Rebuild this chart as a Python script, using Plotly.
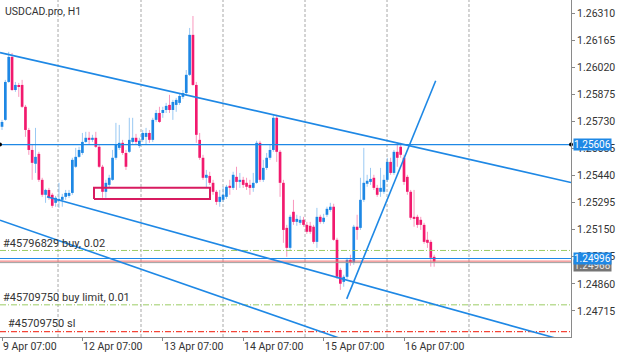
import plotly.graph_objects as go

# ---------------- data (USDCAD.pro, H1) ----------------
opens = [1.25701, 1.25738, 1.25941, 1.26075, 1.25898, 1.25920, 1.25925, 1.25808, 1.25684, 1.25577,
         1.25503, 1.25556, 1.25417, 1.25337, 1.25363, 1.25337, 1.25294, 1.25305, 1.25310, 1.25326,
         1.25331, 1.25347, 1.25487, 1.25540, 1.25561, 1.25620, 1.25642, 1.25631, 1.25642, 1.25594,
         1.25487, 1.25353, 1.25390, 1.25417, 1.25535, 1.25588, 1.25615, 1.25561, 1.25567, 1.25620,
         1.25642, 1.25599, 1.25631, 1.25647, 1.25668, 1.25631, 1.25738, 1.25775, 1.25775, 1.25791,
         1.25818, 1.25791, 1.25818, 1.25829, 1.25861, 1.25882, 1.25979, 1.26193, 1.25925, 1.25631,
         1.25535, 1.25428, 1.25438, 1.25401, 1.25353, 1.25299, 1.25310, 1.25326, 1.25385, 1.25374,
         1.25433, 1.25406, 1.25417, 1.25401, 1.25390, 1.25374, 1.25401, 1.25615, 1.25417, 1.25481,
         1.25535, 1.25577, 1.25749, 1.25567, 1.25401, 1.25160, 1.25053, 1.25246, 1.25192, 1.25187,
         1.25203, 1.25176, 1.25171, 1.25166, 1.25085, 1.25219, 1.25192, 1.25230, 1.25256, 1.25273,
         1.25096, 1.24935, 1.24871, 1.24898, 1.24989, 1.24973, 1.25166, 1.25160, 1.25310, 1.25396,
         1.25406, 1.25428, 1.25374, 1.25353, 1.25353, 1.25417, 1.25513, 1.25454, 1.25567, 1.25594,
         1.25535, 1.25433, 1.25353, 1.25219, 1.25219, 1.25203, 1.25176, 1.25096, 1.25085, 1.25005]
highs = [1.25738, 1.25952, 1.26102, 1.26096, 1.25941, 1.25936, 1.25952, 1.25818, 1.25695, 1.25604,
         1.25695, 1.25567, 1.25428, 1.25369, 1.25374, 1.25347, 1.25331, 1.25401, 1.25342, 1.25363,
         1.25363, 1.25535, 1.25588, 1.25594, 1.25668, 1.25674, 1.25674, 1.25658, 1.25674, 1.25604,
         1.25497, 1.25417, 1.25444, 1.25577, 1.25722, 1.25711, 1.25631, 1.25577, 1.25749, 1.25749,
         1.25663, 1.25642, 1.25684, 1.25695, 1.25684, 1.25749, 1.25791, 1.25808, 1.25808, 1.25829,
         1.25872, 1.25845, 1.25856, 1.25882, 1.25898, 1.26005, 1.26230, 1.26294, 1.25941, 1.25668,
         1.25551, 1.25470, 1.25460, 1.25417, 1.25363, 1.25363, 1.25380, 1.25390, 1.25417, 1.25460,
         1.25487, 1.25454, 1.25433, 1.25428, 1.25417, 1.25454, 1.25626, 1.25626, 1.25524, 1.25561,
         1.25604, 1.25765, 1.25765, 1.25577, 1.25417, 1.25176, 1.25230, 1.25310, 1.25230, 1.25224,
         1.25219, 1.25192, 1.25192, 1.25176, 1.25267, 1.25230, 1.25235, 1.25273, 1.25294, 1.25289,
         1.25107, 1.24946, 1.24909, 1.25000, 1.25016, 1.25176, 1.25230, 1.25428, 1.25588, 1.25444,
         1.25481, 1.25444, 1.25390, 1.25481, 1.25444, 1.25535, 1.25535, 1.25577, 1.25615, 1.25615,
         1.25551, 1.25444, 1.25363, 1.25363, 1.25230, 1.25219, 1.25187, 1.25139, 1.25096, 1.25016]
lows = [1.25684, 1.25733, 1.25936, 1.25893, 1.25888, 1.25861, 1.25802, 1.25647, 1.25551, 1.25417,
        1.25454, 1.25406, 1.25326, 1.25294, 1.25310, 1.25267, 1.25273, 1.25267, 1.25273, 1.25310,
        1.25321, 1.25337, 1.25481, 1.25535, 1.25551, 1.25615, 1.25604, 1.25620, 1.25588, 1.25481,
        1.25321, 1.25321, 1.25374, 1.25412, 1.25524, 1.25577, 1.25551, 1.25470, 1.25561, 1.25610,
        1.25604, 1.25588, 1.25620, 1.25604, 1.25615, 1.25620, 1.25727, 1.25722, 1.25749, 1.25775,
        1.25775, 1.25738, 1.25781, 1.25818, 1.25850, 1.25872, 1.25973, 1.25920, 1.25615, 1.25524,
        1.25417, 1.25374, 1.25390, 1.25337, 1.25283, 1.25273, 1.25299, 1.25315, 1.25337, 1.25363,
        1.25363, 1.25374, 1.25374, 1.25363, 1.25337, 1.25353, 1.25396, 1.25406, 1.25406, 1.25470,
        1.25524, 1.25567, 1.25513, 1.25326, 1.25080, 1.25005, 1.25042, 1.25176, 1.25171, 1.25176,
        1.25166, 1.25128, 1.25128, 1.25075, 1.25053, 1.25182, 1.25182, 1.25219, 1.25246, 1.25091,
        1.24887, 1.24828, 1.24845, 1.24887, 1.24957, 1.24962, 1.25096, 1.25149, 1.25299, 1.25380,
        1.25390, 1.25363, 1.25326, 1.25326, 1.25342, 1.25406, 1.25444, 1.25444, 1.25487, 1.25535,
        1.25390, 1.25337, 1.25203, 1.25166, 1.25160, 1.25149, 1.25075, 1.25053, 1.24952, 1.24952]
closes = [1.25727, 1.25941, 1.26075, 1.25898, 1.25925, 1.25915, 1.25808, 1.25684, 1.25577, 1.25508,
          1.25540, 1.25417, 1.25337, 1.25363, 1.25321, 1.25278, 1.25321, 1.25315, 1.25326, 1.25347,
          1.25347, 1.25524, 1.25540, 1.25577, 1.25620, 1.25642, 1.25631, 1.25642, 1.25594, 1.25487,
          1.25353, 1.25401, 1.25428, 1.25535, 1.25604, 1.25615, 1.25561, 1.25487, 1.25631, 1.25642,
          1.25620, 1.25626, 1.25668, 1.25668, 1.25631, 1.25738, 1.25775, 1.25727, 1.25791, 1.25813,
          1.25791, 1.25834, 1.25845, 1.25866, 1.25882, 1.25979, 1.26193, 1.25925, 1.25658, 1.25535,
          1.25428, 1.25444, 1.25401, 1.25353, 1.25299, 1.25326, 1.25337, 1.25380, 1.25374, 1.25444,
          1.25406, 1.25417, 1.25390, 1.25380, 1.25374, 1.25401, 1.25615, 1.25417, 1.25481, 1.25535,
          1.25577, 1.25749, 1.25567, 1.25401, 1.25149, 1.25053, 1.25219, 1.25192, 1.25208, 1.25203,
          1.25176, 1.25139, 1.25139, 1.25085, 1.25219, 1.25192, 1.25214, 1.25262, 1.25273, 1.25096,
          1.24898, 1.24861, 1.24898, 1.24989, 1.24973, 1.25166, 1.25149, 1.25310, 1.25401, 1.25412,
          1.25422, 1.25374, 1.25337, 1.25374, 1.25417, 1.25513, 1.25454, 1.25567, 1.25535, 1.25551,
          1.25406, 1.25353, 1.25214, 1.25208, 1.25176, 1.25176, 1.25085, 1.25080, 1.25000, 1.24980]
bars = list(range(len(opens)))  # bar index, bar 0 = 9 Apr 07:00 (H1)

tick_bars = [0, 24, 48, 72, 96, 120]
tick_labels = ["9 Apr 07:00", "12 Apr 07:00", "13 Apr 07:00",
               "14 Apr 07:00", "15 Apr 07:00", "16 Apr 07:00"]
price_ticks = [1.24715, 1.24860, 1.25005, 1.25150, 1.25295, 1.25440,
               1.25585, 1.25730, 1.25875, 1.26020, 1.26165, 1.26310]

hline_level = 1.25606
bid_level = 1.24996
red_level = 1.24982
gray_level = 1.24974
gray_text = "1.24968"

order_labels = ["#45796829 buy, 0.02", "#45709750 buy limit, 0.01", "#45709750 sl"]
order_levels = [1.25039, 1.24748, 1.24605]

# trend lines: (bar0, price0, bar1, price1)
trend_upper = [(-0.6, 1.26098), (169.85, 1.25403)]
trend_mid = [(13.43, 1.25326), (169.85, 1.24547)]
trend_low = [(-0.6, 1.25201), (110.0, 1.24512)]
trend_steep = [(102.9, 1.24780), (129.46, 1.25947)]
box_bars = [27.46, 62.09]
box_prices = [1.25315, 1.25374]

# ---------------- styling ----------------
X_RANGE = [-0.6, 169.85]
Y_RANGE = [1.245758, 1.263796]
GRID_X = [16.72, 41.49, 65.97, 90.45, 114.93, 139.4]
BULL = "#1E88E5"
BEAR = "#F21A6E"
BULL_W = "rgba(30,136,229,0.45)"
BEAR_W = "rgba(242,26,110,0.45)"
LINE_BLUE = "#1E88E5"
FONT = "Roboto"

fig = go.Figure()

# wicks
for up, col in [(True, BULL_W), (False, BEAR_W)]:
    wx, wy = [], []
    for i, o, h, l, c in zip(bars, opens, highs, lows, closes):
        if (c >= o) == up:
            wx += [i, i, None]
            wy += [l, h, None]
    fig.add_trace(go.Scatter(x=wx, y=wy, mode="lines", line=dict(color=col, width=1),
                             hoverinfo="skip", showlegend=False))

# bodies
base = [min(o, c) for o, c in zip(opens, closes)]
height = [max(abs(c - o), 0.00004) for o, c in zip(opens, closes)]
colors = [BULL if c >= o else BEAR for o, c in zip(opens, closes)]
fig.add_trace(go.Bar(x=bars, y=height, base=base, width=0.8,
                     marker=dict(color=colors, line=dict(width=0)),
                     hoverinfo="skip", showlegend=False))

def seg(pts, color, width, dash=None):
    fig.add_trace(go.Scatter(x=[p[0] for p in pts], y=[p[1] for p in pts], mode="lines",
                             line=dict(color=color, width=width, dash=dash),
                             hoverinfo="skip", showlegend=False))

# order lines
seg([(X_RANGE[0], order_levels[0]), (X_RANGE[1], order_levels[0])], "#9CCC65", 1, "6px,2px,1px,2px")
seg([(X_RANGE[0], order_levels[1]), (X_RANGE[1], order_levels[1])], "#9CCC65", 1, "6px,2px,1px,2px")
seg([(X_RANGE[0], order_levels[2]), (X_RANGE[1], order_levels[2])], "#F44336", 1.2, "6px,2px,1px,2px")

# price lines
seg([(X_RANGE[0], gray_level), (X_RANGE[1], gray_level)], "#9E9E9E", 1)
seg([(X_RANGE[0], red_level), (X_RANGE[1], red_level)], "#EF6B6B", 1)
seg([(X_RANGE[0], bid_level), (X_RANGE[1], bid_level)], LINE_BLUE, 1.2)
seg([(X_RANGE[0], hline_level), (X_RANGE[1], hline_level)], LINE_BLUE, 1.2)

# rectangle
x0, x1 = box_bars
y0, y1 = box_prices
seg([(x0, y0), (x1, y0), (x1, y1), (x0, y1), (x0, y0)], "#D81B60", 2)

# trend lines
for tl in [trend_upper, trend_mid, trend_low, trend_steep]:
    seg(tl, LINE_BLUE, 1.6)

# anchor dots of the horizontal line
fig.add_trace(go.Scatter(x=X_RANGE, y=[hline_level, hline_level], mode="markers",
                         marker=dict(color="black", size=4), cliponaxis=False,
                         hoverinfo="skip", showlegend=False))

shapes = [dict(type="line", xref="x", yref="paper", x0=g, x1=g, y0=0, y1=1,
               line=dict(color="#A8A8A8", width=1, dash="3px,2px"), layer="below")
          for g in GRID_X]

annotations = [dict(text="USDCAD.pro, H1", xref="paper", yref="paper", x=0, y=1,
                    xanchor="left", yanchor="top", xshift=3, yshift=-3, showarrow=False,
                    font=dict(family=FONT, size=10.5, color="#333333"))]
for t, lv, sh, ys in zip(order_labels, order_levels, [0, 0, 5], [-2, -1, 0]):
    annotations.append(dict(text=t, xref="paper", yref="y", x=0, y=lv, xanchor="left",
                            yanchor="bottom", xshift=1 + sh, yshift=ys, showarrow=False,
                            font=dict(family=FONT, size=11, color="#333333")))
for b, t in zip(tick_bars, tick_labels):
    annotations.append(dict(text=t, xref="x", yref="paper", x=b, y=0, xanchor="left",
                            yanchor="top", xshift=-1, yshift=-1, showarrow=False,
                            font=dict(family=FONT, size=10.5, color="#333333")))
annotations.append(dict(text=gray_text, xref="paper", yref="y", x=1, y=gray_level,
                        xanchor="left", yanchor="middle", xshift=2, yshift=-3, showarrow=False,
                        bgcolor="#757575", borderpad=0,
                        font=dict(family=FONT, size=10, color="#E8E8E8")))
for lv in [bid_level, hline_level]:
    annotations.append(dict(text=f"{lv:.5f}", xref="paper", yref="y", x=1, y=lv,
                            xanchor="left", yanchor="middle", xshift=2, showarrow=False,
                            bgcolor=LINE_BLUE, borderpad=0,
                            font=dict(family=FONT, size=10, color="white")))

fig.update_layout(
    width=625, height=352,
    margin=dict(l=0, r=54, t=0, b=15),
    paper_bgcolor="white", plot_bgcolor="white",
    barmode="overlay", showlegend=False,
    shapes=shapes, annotations=annotations,
    font=dict(family=FONT),
    xaxis=dict(range=X_RANGE, showgrid=False, zeroline=False,
               tickvals=tick_bars, ticktext=["" for _ in tick_bars],
               ticks="outside", ticklen=3, tickcolor="#888888",
               showline=True, mirror=True, linecolor="#8A8A8A", linewidth=1),
    yaxis=dict(range=Y_RANGE, side="right", showgrid=False, zeroline=False,
               tickvals=price_ticks, ticktext=[f"{p:.5f}" for p in price_ticks],
               ticks="outside", ticklen=3, tickcolor="#888888",
               tickfont=dict(family=FONT, size=10.5, color="#333333"),
               showline=True, mirror=True, linecolor="#8A8A8A", linewidth=1),
)

fig.write_html("out.html")
